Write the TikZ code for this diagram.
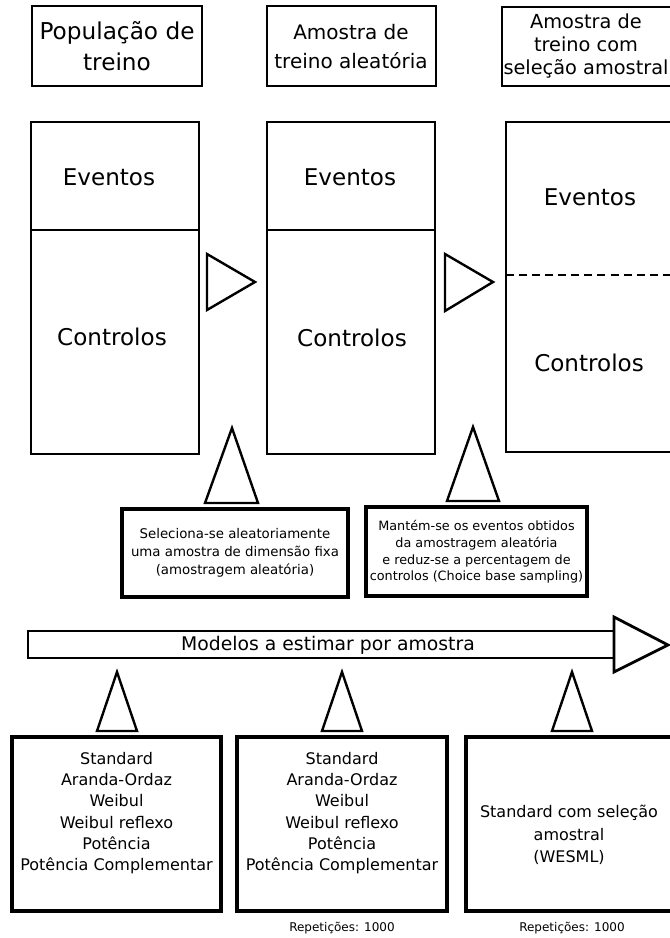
\documentclass[tikz,border=0pt]{standalone}
\usepackage{fontspec}
\setmainfont{DejaVu Sans}

\begin{document}
\begin{tikzpicture}[x=0.75pt,y=0.75pt,yscale=-1,xscale=1,
  headbox/.style={line width=1.6pt},
  colbox/.style={line width=2.1pt},
  notebox/.style={line width=2.6pt},
  modelbox/.style={line width=3.4pt},
  tri/.style={line width=1.8pt,line join=miter},
  txt/.style={inner sep=0pt,align=center}]
        \useasboundingbox (0,0) rectangle (670,938);

        %Shape: Rectangle [top titles]
        \draw [headbox] (32,6) -- (202,6) -- (202,86) -- (32,86) -- cycle ;
        \draw [headbox] (267,6) -- (436,6) -- (436,86) -- (267,86) -- cycle ;
        \draw [headbox] (502,7) -- (672,7) -- (672,86) -- (502,86) -- cycle ;

        %Shape: Rectangle [samples]
        \draw [colbox] (31,122) -- (199,122) -- (199,454) -- (31,454) -- cycle ;
        \draw [colbox] (31,230) -- (199,230) ;
        \draw [colbox] (267,122) -- (435,122) -- (435,454) -- (267,454) -- cycle ;
        \draw [colbox] (267,230) -- (435,230) ;
        \draw [colbox] (676,122) -- (506,122) -- (506,452) -- (676,452) ;
        %Straight Lines [dashed split]
        \draw [line width=2pt, dash pattern=on 6pt off 3.8pt] (506,275) -- (672,275) ;

        %Shape: Triangle [right]
        \draw [tri] (207,254) -- (255,282) -- (207,310) -- cycle ;
        \draw [tri] (445,254) -- (493,282) -- (445,311) -- cycle ;
        %Shape: Triangle [up, notes]
        \draw [tri] (232,428) -- (258,503) -- (205,503) -- cycle ;
        \draw [tri] (473,427) -- (499,501) -- (447,501) -- cycle ;

        %Shape: Rectangle [notes]
        \draw [notebox] (122,509) -- (348,509) -- (348,597) -- (122,597) -- cycle ;
        \draw [notebox] (366,507) -- (587,507) -- (587,596) -- (366,596) -- cycle ;

        %Shape: Right Arrow [models]
        \draw [colbox] (28,631) -- (614,631) -- (614,658) -- (28,658) -- cycle ;
        \draw [colbox,line join=miter] (614,617) -- (668,645) -- (614,672) -- cycle ;

        %Shape: Triangle [up, models]
        \draw [tri] (117,672) -- (137,731) -- (97,731) -- cycle ;
        \draw [tri] (342,672) -- (362,731) -- (322,731) -- cycle ;
        \draw [tri] (572,672) -- (592,731) -- (552,731) -- cycle ;

        %Shape: Rectangle [models]
        \draw [modelbox] (12,737) -- (221,737) -- (221,911) -- (12,911) -- cycle ;
        \draw [modelbox] (237,737) -- (447,737) -- (447,911) -- (237,911) -- cycle ;
        \draw [modelbox] (466,737) -- (678,737) -- (678,911) -- (466,911) -- cycle ;


        % Text Node
        \draw (117,46) node [txt, font=\fontsize{17.4}{23.3}\selectfont] (popTreino) {População de\\treino};
        % Text Node
        \draw (351,47) node [txt, font=\fontsize{15}{21.8}\selectfont] (amAleat) {Amostra de\\treino aleatória};
        % Text Node
        \draw (586,46) node [txt, font=\fontsize{14.5}{17.6}\selectfont] (amSel) {Amostra de\\treino com\\seleção amostral};
        % Text Node
        \draw (109,177) node [txt, font=\fontsize{17.3}{20}\selectfont] (evPop) {Eventos};
        \draw (350,177) node [txt, font=\fontsize{17.3}{20}\selectfont] (evAleat) {Eventos};
        \draw (590,197) node [txt, font=\fontsize{17.3}{20}\selectfont] (evSel) {Eventos};
        % Text Node
        \draw (112,337) node [txt, font=\fontsize{17.3}{20}\selectfont] (ctPop) {Controlos};
        \draw (352,338) node [txt, font=\fontsize{17.3}{20}\selectfont] (ctAleat) {Controlos};
        \draw (589,363) node [txt, font=\fontsize{17.3}{20}\selectfont] (ctSel) {Controlos};
        % Text Node
        \draw (235,553) node [txt, font=\fontsize{10}{13.5}\selectfont] (notaAleat) {Seleciona-se aleatoriamente\\uma amostra de dimensão fixa\\(amostragem aleatória)};
        % Text Node
        \draw (476.5,552) node [txt, font=\fontsize{9.6}{12.5}\selectfont] (notaSel) {Mantém-se os eventos obtidos\\da amostragem aleatória\\e reduz-se a percentagem de\\controlos (Choice base sampling)};
        % Text Node
        \draw (328,645) node [txt, font=\fontsize{14.1}{17}\selectfont] (modelos) {Modelos a estimar por amostra};
        % Text Node
        \draw (116.5,813) node [txt, font=\fontsize{12}{15.9}\selectfont] (modPop) {Standard\\Aranda-Ordaz\\Weibul\\Weibul reflexo\\Potência\\Potência Complementar};
        \draw (342,813) node [txt, font=\fontsize{12}{15.9}\selectfont] (modAleat) {Standard\\Aranda-Ordaz\\Weibul\\Weibul reflexo\\Potência\\Potência Complementar};
        \draw (569,835) node [txt, font=\fontsize{12}{16.9}\selectfont] (modSel) {Standard com seleção\\amostral\\(WESML)};
        % Text Node
        \draw (342,928) node [txt, font=\fontsize{9}{10}\selectfont] (repAleat) {Repetições: 1000};
        \draw (572,928) node [txt, font=\fontsize{9}{10}\selectfont] (repSel) {Repetições: 1000};

\end{tikzpicture}
\end{document}
